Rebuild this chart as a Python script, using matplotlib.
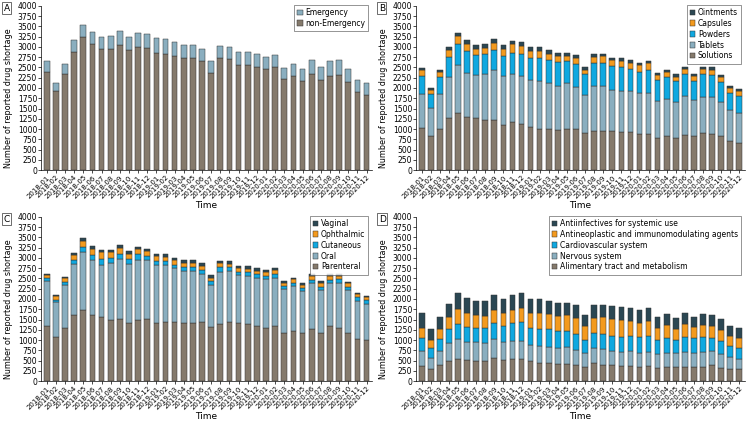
import matplotlib
matplotlib.use('Agg')
import matplotlib.pyplot as plt
import numpy as np

months = ['%d-%02d' % (y, m) for y in (2018, 2019, 2020) for m in range(1, 13)]

# Panel A (cumulative tops)
a_nonemergency = [2400, 1920, 2350, 2870, 3240, 3070, 2950, 2950, 3050, 2920, 3000, 2970,
                  2850, 2840, 2780, 2720, 2720, 2650, 2360, 2720, 2700, 2570, 2550, 2520,
                  2460, 2500, 2210, 2280, 2160, 2330, 2190, 2290, 2310, 2140, 1900, 1820]
a_total = [2650, 2120, 2580, 3170, 3530, 3360, 3240, 3270, 3390, 3240, 3330, 3310,
           3210, 3200, 3120, 3050, 3050, 2950, 2650, 3020, 3000, 2870, 2870, 2820,
           2760, 2810, 2480, 2580, 2460, 2670, 2500, 2650, 2680, 2470, 2200, 2110]

# Panel B (cumulative tops): Solutions, Tablets, Powders, Capsules, Ointments
b_solutions = [1020, 820, 1000, 1270, 1400, 1290, 1270, 1210, 1210, 1110, 1160, 1120,
               1040, 1010, 990, 970, 990, 990, 910, 940, 960, 940, 920, 920,
               870, 870, 790, 820, 790, 850, 820, 910, 890, 820, 720, 670]
b_tablets = [1850, 1520, 1860, 2260, 2550, 2360, 2320, 2340, 2430, 2280, 2350, 2300,
             2190, 2160, 2110, 2060, 2110, 2020, 1820, 2040, 2040, 1940, 1920, 1920,
             1870, 1890, 1690, 1740, 1670, 1800, 1700, 1790, 1770, 1670, 1470, 1380]
b_powders = [2290, 1850, 2270, 2760, 3080, 2890, 2800, 2820, 2920, 2770, 2860, 2840,
             2720, 2740, 2670, 2630, 2650, 2590, 2330, 2600, 2620, 2530, 2500, 2460,
             2400, 2450, 2190, 2270, 2160, 2330, 2160, 2330, 2310, 2150, 1890, 1810]
b_capsules = [2430, 1950, 2380, 2920, 3270, 3080, 2960, 2980, 3100, 2960, 3060, 3030,
              2900, 2910, 2830, 2780, 2790, 2720, 2440, 2760, 2770, 2670, 2650, 2610,
              2550, 2600, 2310, 2390, 2270, 2460, 2290, 2460, 2450, 2270, 2010, 1930]
b_ointments = [2490, 2000, 2430, 3000, 3340, 3160, 3050, 3080, 3190, 3040, 3140, 3110,
               2990, 3000, 2920, 2860, 2860, 2800, 2510, 2820, 2830, 2730, 2720, 2670,
               2600, 2650, 2360, 2440, 2330, 2510, 2340, 2510, 2510, 2320, 2060, 1980]

# Panel C (cumulative tops): Parenteral, Oral, Cutaneous, Ophthalmic, Vaginal
c_parenteral = [1340, 1070, 1290, 1600, 1720, 1600, 1550, 1500, 1520, 1410, 1500, 1510,
                1410, 1450, 1430, 1410, 1410, 1440, 1310, 1380, 1430, 1410, 1380, 1340,
                1290, 1330, 1170, 1230, 1160, 1260, 1170, 1330, 1290, 1160, 1020, 1000]
c_oral = [2430, 1920, 2330, 2850, 3140, 2940, 2840, 2870, 2970, 2850, 2960, 2940,
          2830, 2820, 2750, 2690, 2690, 2610, 2330, 2660, 2670, 2580, 2550, 2520,
          2480, 2520, 2240, 2310, 2200, 2380, 2220, 2380, 2380, 2210, 1950, 1890]
c_cutaneous = [2500, 1980, 2410, 2950, 3270, 3070, 2970, 2990, 3100, 2970, 3090, 3050,
               2930, 2920, 2840, 2790, 2790, 2700, 2440, 2780, 2780, 2660, 2650, 2600,
               2560, 2610, 2310, 2390, 2270, 2460, 2300, 2470, 2480, 2300, 2040, 1970]
c_ophthalmic = [2580, 2070, 2510, 3080, 3420, 3230, 3140, 3140, 3240, 3090, 3210, 3170,
                3040, 3020, 2940, 2880, 2880, 2800, 2520, 2870, 2850, 2750, 2740, 2690,
                2660, 2700, 2390, 2480, 2350, 2560, 2390, 2560, 2570, 2380, 2110, 2050]
c_vaginal = [2610, 2090, 2540, 3130, 3480, 3290, 3190, 3200, 3310, 3170, 3270, 3230,
             3100, 3090, 3000, 2950, 2950, 2870, 2580, 2930, 2920, 2810, 2810, 2750,
             2710, 2750, 2440, 2520, 2400, 2610, 2440, 2600, 2620, 2420, 2150, 2080]

# Panel D (cumulative tops): Alimentary, Nervous, Cardiovascular, Antineoplastic, Antiinfectives
d_alimentary = [370, 290, 390, 480, 530, 510, 480, 480, 560, 510, 540, 530,
                480, 440, 430, 410, 410, 390, 340, 430, 390, 400, 370, 370,
                340, 360, 330, 350, 340, 340, 340, 340, 390, 330, 290, 290]
d_nervous = [730, 560, 740, 930, 1020, 950, 950, 920, 1030, 950, 970, 980,
             880, 850, 830, 810, 830, 760, 680, 800, 780, 740, 710, 730,
             680, 700, 660, 680, 680, 720, 680, 700, 730, 650, 580, 530]
d_cardio = [1040, 800, 1030, 1260, 1400, 1320, 1300, 1300, 1420, 1350, 1420, 1440,
            1300, 1280, 1260, 1220, 1230, 1140, 990, 1170, 1150, 1100, 1080, 1100,
            1070, 1100, 1000, 1050, 1000, 1080, 1040, 1070, 1060, 980, 850, 810]
d_antineo = [1290, 1010, 1270, 1560, 1750, 1660, 1610, 1580, 1730, 1650, 1730, 1780,
             1660, 1650, 1630, 1590, 1610, 1540, 1340, 1540, 1550, 1510, 1490, 1460,
             1420, 1460, 1290, 1370, 1280, 1380, 1310, 1360, 1330, 1250, 1100, 1040]
d_antiinf = [1650, 1270, 1570, 1890, 2140, 2030, 1940, 1940, 2090, 1990, 2090, 2140,
             2010, 2000, 1950, 1910, 1910, 1850, 1610, 1850, 1850, 1820, 1810, 1790,
             1740, 1790, 1570, 1640, 1530, 1660, 1550, 1630, 1620, 1510, 1350, 1300]

brown = '#857a6c'
greyblue = '#8aaebf'
cyan = '#10a8e0'
orange = '#f39a1e'
dark = '#2b4753'

panels = [
    ('A', [a_nonemergency, a_total], ['non-Emergency', 'Emergency'], [brown, greyblue]),
    ('B', [b_solutions, b_tablets, b_powders, b_capsules, b_ointments],
     ['Solutions', 'Tablets', 'Powders', 'Capsules', 'Ointments'],
     [brown, greyblue, cyan, orange, dark]),
    ('C', [c_parenteral, c_oral, c_cutaneous, c_ophthalmic, c_vaginal],
     ['Parenteral', 'Oral', 'Cutaneous', 'Ophthalmic', 'Vaginal'],
     [brown, greyblue, cyan, orange, dark]),
    ('D', [d_alimentary, d_nervous, d_cardio, d_antineo, d_antiinf],
     ['Alimentary tract and metabolism', 'Nervous system', 'Cardiovascular system',
      'Antineoplastic and immunomodulating agents', 'Antiinfectives for systemic use'],
     [brown, greyblue, cyan, orange, dark]),
]

rects = [[0.055, 0.597, 0.441, 0.389], [0.555, 0.597, 0.438, 0.389],
         [0.055, 0.097, 0.441, 0.389], [0.555, 0.097, 0.438, 0.389]]

fig = plt.figure(figsize=(7.5, 4.22), dpi=100)
x = np.arange(len(months))
for (tag, tops, names, cols), r in zip(panels, rects):
    ax = fig.add_axes(r)
    bottom = np.zeros(len(months))
    handles = []
    for top, name, c in zip(tops, names, cols):
        top = np.array(top, dtype=float)
        h = ax.bar(x, top - bottom, bottom=bottom, width=0.62, color=c,
                   edgecolor='#333333', linewidth=0.35, label=name)
        handles.append(h)
        bottom = top
    ax.set_ylim(0, 4000)
    ax.set_xlim(-0.6, len(months) - 0.4)
    ax.set_yticks(np.arange(0, 4001, 250))
    ax.tick_params(axis='y', labelsize=5.5, length=2, width=0.5, pad=1)
    ax.set_xticks(x)
    ax.set_xticklabels(months, rotation=45, ha='right', rotation_mode='anchor', fontsize=5)
    ax.tick_params(axis='x', length=2, width=0.5, pad=1)
    for s in ['top', 'right']:
        ax.spines[s].set_visible(False)
    for s in ['left', 'bottom']:
        ax.spines[s].set_linewidth(0.5)
    ax.set_xlabel('Time', fontsize=6.5, labelpad=1)
    ax.set_ylabel('Number of reported drug shortage', fontsize=5.8, labelpad=2)
    ax.yaxis.set_label_coords(-0.085, 0.44)
    leg = ax.legend(handles[::-1], names[::-1], loc='upper right', fontsize=5.5,
                    frameon=True, fancybox=False, edgecolor='#444444',
                    handlelength=0.7, handleheight=0.7, handletextpad=0.3,
                    borderpad=0.4, labelspacing=0.25, bbox_to_anchor=(1.0, 1.03))
    leg.get_frame().set_linewidth(0.5)
    fig.text(r[0] - 0.05, r[1] + r[3] - 0.005, tag, fontsize=6.5, va='center', ha='left',
             bbox=dict(boxstyle='square,pad=0.15', fc='white', ec='#333333', lw=0.5))

fig.savefig('out.png', dpi=100)
